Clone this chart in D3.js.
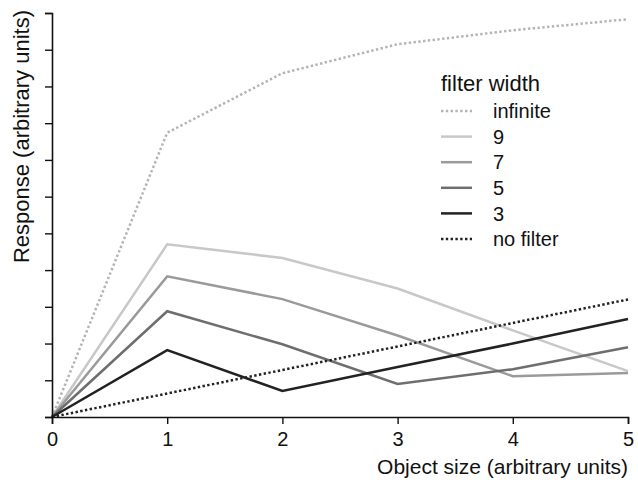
<!DOCTYPE html>
<html>
<head>
<meta charset="utf-8">
<script src="https://cdn.jsdelivr.net/npm/d3@7"></script>
<style>
  body { margin: 0; background: #fff; }
  svg text { font-family: "Liberation Sans", Arial, sans-serif; fill: #111; }
</style>
</head>
<body>
<svg id="chart" width="638" height="480"></svg>
<script>
// object size (x) and responses
const sizes = [0, 1, 2, 3, 4, 5];
const respInfinite = [0, 7.74, 9.36, 10.15, 10.53, 10.83];
const resp9 = [0, 4.70, 4.33, 3.50, 2.36, 1.25];
const resp7 = [0, 3.83, 3.21, 2.22, 1.11, 1.20];
const resp5 = [0, 2.88, 1.98, 0.90, 1.30, 1.90];
const resp3 = [0, 1.82, 0.71, 1.36, 2.00, 2.67];
const respNoFilter = [0, 0.64, 1.28, 1.92, 2.56, 3.20];

const xTicks = [0, 1, 2, 3, 4, 5];
const yTicks = d3.range(0, 12);

const series = [
  { label: 'infinite', values: respInfinite, color: '#b4b4b4', dash: '2.4,2.4' },
  { label: '9', values: resp9, color: '#c8c8c8', dash: null },
  { label: '7', values: resp7, color: '#9a9a9a', dash: null },
  { label: '5', values: resp5, color: '#6e6e6e', dash: null },
  { label: '3', values: resp3, color: '#222', dash: null },
  { label: 'no filter', values: respNoFilter, color: '#222', dash: '2.4,2.4' }
];

const svg = d3.select('#chart');
const margin = { top: 13, right: 10, bottom: 63, left: 52 };
const width = 628 - margin.left;
const height = 417 - margin.top;

const g = svg.append('g').attr('transform', `translate(${margin.left},${margin.top})`);

const x = d3.scaleLinear().domain([0, 5]).range([0, width]);
const y = d3.scaleLinear().domain([0, 11]).range([height, 0]);

// lines first, axes on top
const line = d3.line().x((d, i) => x(sizes[i])).y(d => y(d));

g.selectAll('.series')
  .data(series)
  .enter()
  .append('path')
  .attr('class', 'series')
  .attr('fill', 'none')
  .attr('stroke', d => d.color)
  .attr('stroke-width', 2.5)
  .attr('stroke-linejoin', 'miter')
  .attr('stroke-dasharray', d => d.dash)
  .attr('d', d => line(d.values));

// x axis
const xAxis = g.append('g')
  .attr('transform', `translate(0,${height})`)
  .call(d3.axisBottom(x).tickValues(xTicks).tickSize(7).tickPadding(8).tickFormat(d3.format('d')));
xAxis.select('.domain').attr('stroke', '#111').attr('stroke-width', 1.6);
xAxis.selectAll('.tick line').attr('stroke', '#111').attr('stroke-width', 1.4);
xAxis.selectAll('.tick text').attr('font-size', 20).attr('fill', '#111');

// y axis, no labels
const yAxis = g.append('g')
  .call(d3.axisLeft(y).tickValues(yTicks).tickSize(7).tickFormat(''));
yAxis.select('.domain').attr('stroke', '#111').attr('stroke-width', 1.6);
yAxis.selectAll('.tick line').attr('stroke', '#111').attr('stroke-width', 1.4);

// axis titles
svg.append('text')
  .attr('x', 628)
  .attr('y', 474)
  .attr('text-anchor', 'end')
  .attr('font-size', 21)
  .text('Object size (arbitrary units)');

svg.append('text')
  .attr('transform', 'translate(29,10) rotate(-90)')
  .attr('text-anchor', 'end')
  .attr('font-size', 22)
  .text('Response (arbitrary units)');

// legend
const legend = svg.append('g').attr('transform', 'translate(441,0)');
legend.append('text')
  .attr('x', 0)
  .attr('y', 91)
  .attr('font-size', 22)
  .text('filter width');

const item = legend.selectAll('.item')
  .data(series)
  .enter()
  .append('g')
  .attr('class', 'item')
  .attr('transform', (d, i) => `translate(0,${111 + i * 25.6})`);

item.append('line')
  .attr('x1', 0)
  .attr('x2', 31)
  .attr('stroke', d => d.color)
  .attr('stroke-width', 2.5)
  .attr('stroke-dasharray', d => d.dash);

item.append('text')
  .attr('x', 52)
  .attr('dy', '0.36em')
  .attr('font-size', 20)
  .text(d => d.label);
</script>
</body>
</html>
